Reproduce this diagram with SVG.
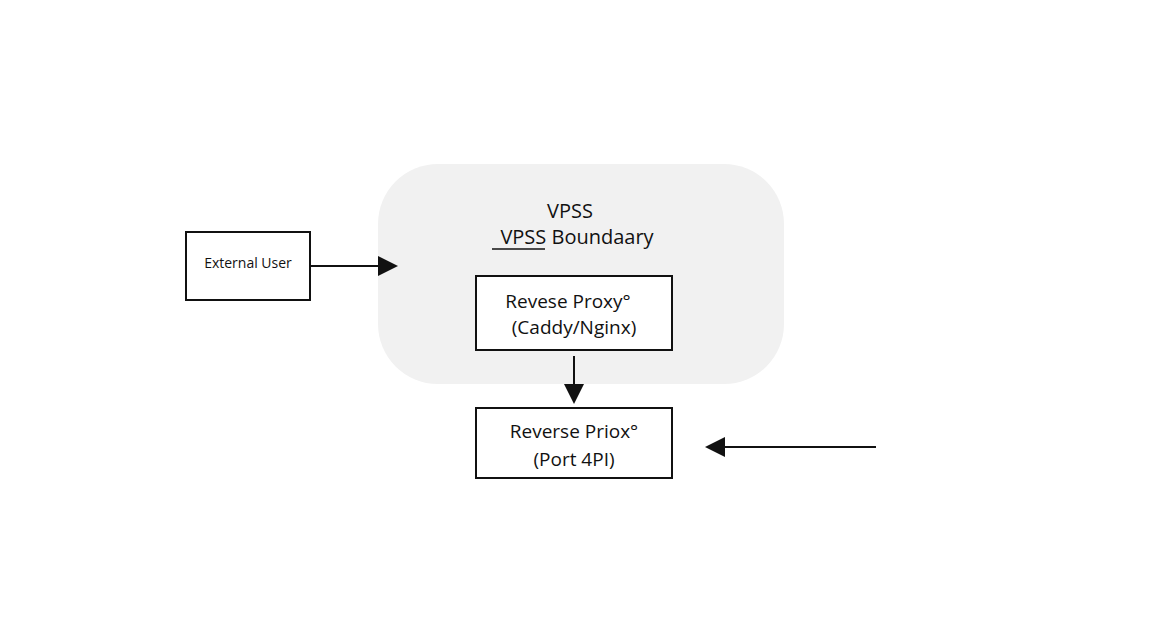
<svg xmlns="http://www.w3.org/2000/svg" width="1152" height="640" viewBox="0 0 1152 640">
<style>
.box{fill:#fff;stroke:#111;stroke-width:2}
.t{font-family:"Open Sans","Liberation Sans",sans-serif;fill:#111;text-anchor:middle}
.c{stroke:#111;stroke-width:2;fill:none}
</style>
<defs><marker id="b" viewBox="0 0 10 10" refX="9" refY="5" markerWidth="20" markerHeight="20" markerUnits="userSpaceOnUse" orient="auto"><path d="M0,0 L10,5 L0,10 z" fill="#111"/></marker></defs>
<rect width="1152" height="640" fill="#fff"/>
<g id="boundary"><rect x="378" y="164" width="406" height="220" rx="60" fill="#f1f1f1"/>
<text class="t" x="570" y="218" font-size="20">VPSS</text>
<text class="t" x="577" y="244" font-size="20">VPSS Boundaary</text>
<line x1="492" y1="249" x2="545" y2="249" stroke="#111" stroke-width="1.5"/></g>
<g id="user"><rect class="box" x="186" y="232" width="124" height="68"/><text class="t" x="248" y="268" font-size="14">External User</text></g>
<g id="proxy"><rect class="box" x="476" y="276" width="196" height="74"/>
<text class="t" x="568" y="308" font-size="19">Revese Proxy°</text><text class="t" x="574" y="334" font-size="19">(Caddy/Nginx)</text></g>
<g id="priox"><rect class="box" x="476" y="408" width="196" height="70"/>
<text class="t" x="574" y="438" font-size="19">Reverse Priox°</text><text class="t" x="574" y="466" font-size="19">(Port 4PI)</text></g>
<g id="connectors">
<line class="c" x1="310" y1="266" x2="396" y2="266" marker-end="url(#b)"/>
<line class="c" x1="574" y1="356" x2="574" y2="402" marker-end="url(#b)"/>
<line class="c" x1="876" y1="447" x2="707" y2="447" marker-end="url(#b)"/>
</g>
</svg>
